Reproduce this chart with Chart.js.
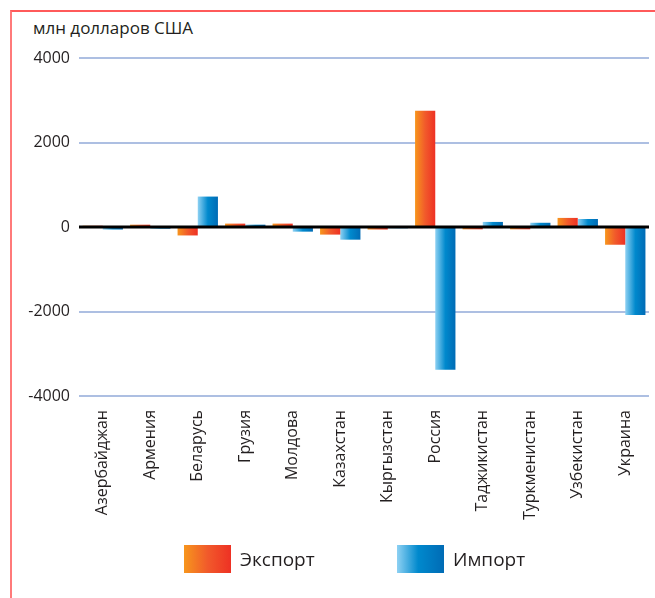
<!DOCTYPE html>
<html>
<head>
<meta charset="utf-8">
<script src="https://cdn.jsdelivr.net/npm/chart.js@4"></script>
<style>
  body { margin: 0; background: #fff; font-family: "Open Sans", sans-serif; color: #231f20; }
  .wrap { position: relative; width: 655px; height: 598px; overflow: hidden; }
  .frame { position: absolute; left: 10px; top: 10px; width: 700px; height: 700px;
           border-left: 2px solid #ff7a7a; border-top: 2px solid #ff5a5a; }
  .unit { position: absolute; left: 33px; top: 16px; font-size: 17px; }
  canvas { position: absolute; left: 0; top: 0; }
  .leg { position: absolute; top: 545px; font-size: 19px; line-height: 28px; }
  .leg span { display: inline-block; width: 47px; height: 28px; vertical-align: top; margin-right: 9px; }
  .exp span { background: linear-gradient(to right, #f7961d, #f15a2b 50%, #ee3124); }
  .imp span { background: linear-gradient(to right, #8ed1f3, #0089cd 45%, #006bb5); }
</style>
</head>
<body>
<div class="wrap">
  <div class="frame"></div>
  <div class="unit">млн долларов США</div>
  <canvas id="chart" width="655" height="598"></canvas>
  <div class="leg exp" style="left:184px"><span></span>Экспорт</div>
  <div class="leg imp" style="left:397px"><span></span>Импорт</div>
</div>
<script>
var countries = ["Азербайджан", "Армения", "Беларусь", "Грузия", "Молдова", "Казахстан",
  "Кыргызстан", "Россия", "Таджикистан", "Туркменистан", "Узбекистан", "Украина"];
var exportValues = [30, 55, -200, 80, 80, -180, -60, 2750, -55, -55, 215, -420];
var importValues = [-60, -40, 720, 55, -110, -300, -30, -3380, 120, 100, 190, -2080];
var yTicks = [-4000, -2000, 0, 2000, 4000];

var catPct = 0.85;
var exportStops = ["#f7961d", "#f15a2b", "#ee3124"];
var importStops = ["#8ed1f3", "#0089cd", "#006bb5"];

// horizontal gradient across each bar, from the x scale
function barFill(context, stops, side) {
  var chart = context.chart;
  var xs = chart.scales.x;
  if (!xs || context.dataIndex === undefined) return stops[1];
  var c = xs.getPixelForValue(context.dataIndex);
  var w = (xs.width / countries.length) * catPct / 2;
  if (!isFinite(c) || !isFinite(w) || w <= 0) return stops[1];
  var x0 = side === 0 ? c - w : c;
  var g = chart.ctx.createLinearGradient(x0, 0, x0 + w, 0);
  g.addColorStop(0, stops[0]);
  g.addColorStop(0.5, stops[1]);
  g.addColorStop(1, stops[2]);
  return g;
}

var zeroLine = {
  id: "zeroLine",
  afterDatasetsDraw: function (chart) {
    var y = chart.scales.y.getPixelForValue(0);
    var ctx = chart.ctx;
    ctx.save();
    ctx.strokeStyle = "#000";
    ctx.lineWidth = 3;
    ctx.beginPath();
    ctx.moveTo(chart.chartArea.left, y);
    ctx.lineTo(chart.chartArea.right, y);
    ctx.stroke();
    ctx.restore();
  }
};

var ctx = document.getElementById("chart").getContext("2d");

var myChart = new Chart(ctx, {
  type: "bar",
  data: {
    labels: countries,
    datasets: [
      {
        label: "Экспорт",
        data: exportValues,
        backgroundColor: function (c) { return barFill(c, exportStops, 0); },
        categoryPercentage: catPct,
        barPercentage: 1,
      },
      {
        label: "Импорт",
        data: importValues,
        backgroundColor: function (c) { return barFill(c, importStops, 1); },
        categoryPercentage: catPct,
        barPercentage: 1,
      },
    ],
  },
  options: {
    responsive: false,
    animation: false,
    layout: { padding: { left: 0, top: 58, right: 6, bottom: 52 } },
    plugins: { legend: { display: false }, tooltip: { enabled: false } },
    scales: {
      x: {
        grid: { display: false },
        border: { display: false },
        afterFit: function (scale) { scale.height = 150; },
        ticks: {
          autoSkip: false,
          maxRotation: 90,
          minRotation: 90,
          padding: 6,
          color: "#231f20",
          font: { family: "Open Sans", size: 16 },
        },
      },
      y: {
        min: -4000,
        max: 4000,
        afterFit: function (scale) { scale.width = 79; },
        afterBuildTicks: function (scale) {
          scale.ticks = yTicks.map(function (v) { return { value: v }; });
        },
        grid: { color: "#adbfe2", lineWidth: 2, drawTicks: false },
        border: { display: false },
        ticks: {
          padding: 9,
          color: "#231f20",
          font: { family: "Open Sans", size: 16 },
          callback: function (v) { return String(v); },
        },
      },
    },
  },
  plugins: [zeroLine],
});
</script>
</body>
</html>
